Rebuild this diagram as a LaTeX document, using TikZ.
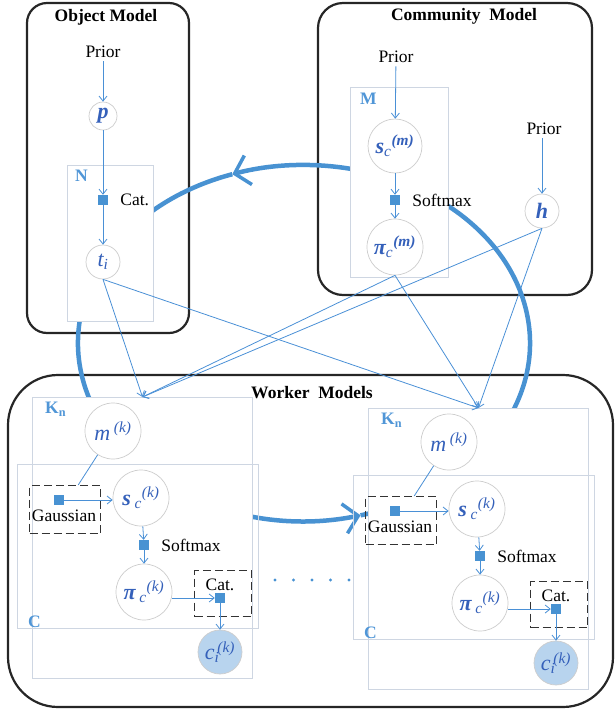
\documentclass[tikz,border=0pt]{standalone}
\usepackage{fontspec}
\setmainfont{Liberation Serif}
\usetikzlibrary{positioning,arrows.meta}

\definecolor{loopblue}{RGB}{72,146,210}
\definecolor{linkblue}{RGB}{74,144,214}
\definecolor{varblue}{RGB}{52,96,186}
\definecolor{plategray}{RGB}{206,214,226}
\definecolor{circgray}{RGB}{205,205,205}
\definecolor{obsblue}{RGB}{184,212,238}
\definecolor{labblue}{RGB}{80,150,215}

\newcommand\basefont{\fontsize{17.5}{21}\selectfont}

\tikzset{
  model/.style={draw=black!85, line width=2.2pt},
  modeltitle/.style={font=\basefont\bfseries},
  plate/.style={rectangle, draw=plategray, line width=0.9pt, inner sep=0pt},
  var/.style={circle, draw=circgray, line width=0.7pt, fill=white, text=varblue, inner sep=0pt,
    font=\fontsize{22}{24}\selectfont\itshape},
  obsvar/.style={var, fill=obsblue},
  factor/.style={rectangle, fill=loopblue, minimum size=10pt, inner sep=0pt},
  fbox/.style={rectangle, draw=black!80, dash pattern=on 8pt off 4pt, line width=1.4pt, inner sep=0pt},
  flabel/.style={inner sep=0pt},
  link/.style={draw=linkblue, line width=0.8pt},
  platelabel/.style={text=labblue, font=\basefont\bfseries, inner sep=0pt},
  loopline/.style={draw=loopblue, line width=4.5pt},
  >={Straight Barb[length=5pt,width=8pt]}
}

\begin{document}
\begin{tikzpicture}[x=1pt, y=1pt, font=\basefont]
\useasboundingbox (0,0) rectangle (614,-713);

% the three models
\draw[model, rounded corners=20pt] (27,-3) rectangle (189,-333);
\draw[model, rounded corners=25pt] (318,-3) rectangle (592,-295);
\draw[model, rounded corners=50pt] (8,-375) rectangle (613,-707);
\node[modeltitle] (objtitle) at (106,-17) {Object Model};
\node[modeltitle] (comtitle) at (464,-16) {Community~~Model};
\node[modeltitle] (wortitle) at (312,-393) {Worker~~Models};

% big loop
\coordinate (loopc) at (304,-343);
\draw[loopline, -{Straight Barb[length=14pt,width=30pt,line width=3.5pt]}] (loopc) ++(284.5:226pt and 178pt)
  arc[start angle=284.5, end angle=468.5, x radius=226pt, y radius=178pt];
\draw[loopline, -{Straight Barb[length=14pt,width=30pt,line width=3.5pt]}] (loopc) ++(108.5:226pt and 178pt)
  arc[start angle=108.5, end angle=284.5, x radius=226pt, y radius=178pt];

% object model
\node[plate, fill=white, minimum width=86pt, minimum height=156pt, anchor=north west] (nplate) at (67,-165) {};
\node[platelabel, below right=5pt and 8pt of nplate.north west] (nlabel) {N};
\node (objprior) at (103,-52) {Prior};
\node[var, minimum size=28pt] (p) at (103,-116) {\bfseries p};
\node[factor] (catn) at (103,-200) {};
\node[flabel, right=12pt of catn] (catnlabel) {Cat.};
\node[var, minimum size=34pt] (t) at (103,-262) {t\textsubscript{i}};

\draw[link,->] (objprior) -- (p);
\draw[link,->] (p) -- (catn);
\draw[link,->] (catn) -- (t);

% community model
\node[plate, fill=white, minimum width=98pt, minimum height=190pt, anchor=north west] (mplate) at (350,-87) {};
\node[platelabel, below right=6pt and 10pt of mplate.north west] (mlabel) {M};
\node (comprior) at (396,-57) {Prior};
\node[var, minimum size=54pt] (sm) at (395,-146) {{\bfseries s}\textsubscript{c}\textsuperscript{\bfseries (m)}};
\node[factor] (smax) at (395,-200) {};
\node[flabel, right=12pt of smax] (smaxlabel) {Softmax};
\node[var, minimum size=56pt] (pim) at (395,-247) {{\bfseries π}\textsubscript{c}\textsuperscript{\bfseries (m)}};
\node (hprior) at (544,-129) {Prior};
\node[var, minimum size=34pt] (h) at (542,-211) {\bfseries h};

\draw[link,->] (comprior) -- (sm);
\draw[link,->] (sm) -- (smax);
\draw[link,->] (smax) -- (pim);
\draw[link,->] (hprior.south -| h) -- (h);

% worker models
\foreach \w/\dx/\dy in {1/0/0, 2/336/11} {
\begin{scope}[shift={(\dx,-\dy)}]
  \node[plate, fill=white, minimum width=220pt, minimum height=281pt, anchor=north west] (kn\w) at (32,-397) {};
  \node[platelabel, below right=5pt and 13pt of kn\w.north west] (knlabel\w) {K\textsubscript{n}};
  \node[plate, minimum width=241pt, minimum height=164pt, anchor=north west] (cp\w) at (17,-464) {};
  \node[platelabel, above right=1pt and 11pt of cp\w.south west] (clabel\w) {C};

  \node[var, minimum size=56pt] (m\w) at (113,-431) {m\,\textsuperscript{(k)}};
  \node[fbox, minimum width=71pt, minimum height=48pt, anchor=north west] (gbox\w) at (29,-485) {};
  \node[factor] (gf\w) at (59,-500) {};
  \node[flabel] (glabel\w) at (64,-516) {Gaussian};
  \node[var, minimum size=56pt] (s\w) at (141,-498) {{\bfseries s}\,\textsubscript{c}\textsuperscript{(k)}};
  \node[factor] (smf\w) at (144,-545) {};
  \node[flabel, right=12pt of smf\w] (smflabel\w) {Softmax};
  \node[var, minimum size=56pt] (pi\w) at (144,-592) {{\bfseries π}\,\textsubscript{c}\textsuperscript{(k)}};
  \node[fbox, minimum width=57pt, minimum height=46pt, anchor=north west] (cbox\w) at (194,-570) {};
  \node[factor] (cf\w) at (220,-598) {};
  \node[flabel, above=2pt of cf\w] (cflabel\w) {Cat.};
  \node[obsvar, minimum size=44pt] (ci\w) at (220,-652) {c\textsubscript{i}\hspace{-2pt}\textsuperscript{(k)}};

  \draw[link] (m\w) -- ([xshift=13pt]gbox\w.north);
  \draw[link,->] (gf\w.east) -- (gf\w.east -| s\w.west);
  \draw[link,->] (s\w) -- (smf\w);
  \draw[link,->] (smf\w) -- (pi\w);
  \draw[link,->] (pi\w.east |- cf\w) -- (cf\w);
  \draw[link,->] (cf\w) -- (ci\w);
\end{scope}
}

% shared variables feed every worker
\foreach \src in {t,pim,h}
  \foreach \w in {1,2}
    \draw[link,->] (\src.south) -- (kn\w.north);

% more workers
\foreach \i in {0,...,4}
  \fill[loopblue] (275+18.5*\i,-580) circle (1.6pt);
\end{tikzpicture}
\end{document}
